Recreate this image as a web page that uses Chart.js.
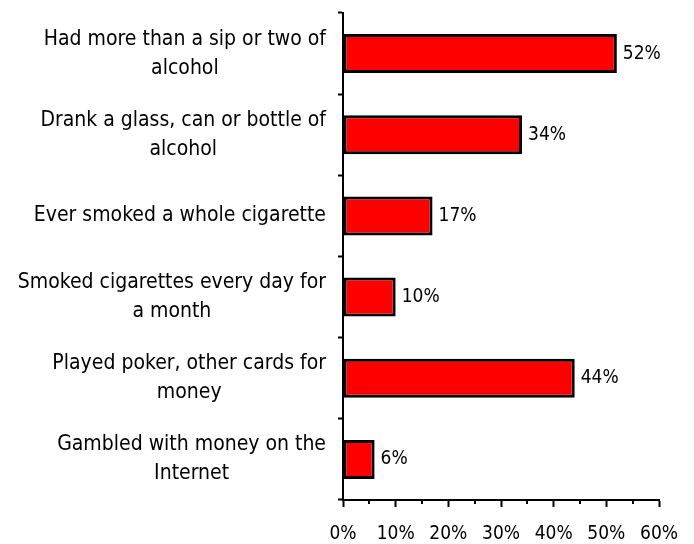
<!DOCTYPE html>
<html>
<head>
<meta charset="utf-8">
<script src="https://cdn.jsdelivr.net/npm/chart.js@4/dist/chart.umd.min.js"></script>
<style>
  html, body { margin: 0; padding: 0; background: #fff; }
  #wrap { width: 694px; height: 544px; }
</style>
</head>
<body>
<div id="wrap"><canvas id="c"></canvas></div>
<script>
var categories = [
    ['Had more than a sip or two of', 'alcohol'],
    ['Drank a glass, can or bottle of', 'alcohol'],
    ['Ever smoked a whole cigarette'],
    ['Smoked cigarettes every day for', 'a month'],
    ['Played poker, other cards for', 'money'],
    ['Gambled with money on the', 'Internet']
];
var percents = [52, 34, 17, 10, 44, 6];
var xTicks = [0, 10, 20, 30, 40, 50, 60];
var minorTicks = [5, 15, 25, 35, 45, 55];

var FONT = '"DejaVu Sans Condensed", "DejaVu Sans", sans-serif';

// y labels: each block right-aligned, lines centred inside the block (Excel style)
var yLabelsPlugin = {
    id: 'yLabels',
    afterDraw: function(chart) {
        var ctx = chart.ctx;
        var y = chart.scales.y;
        var right = y.right - 17;
        var lineH = 29;
        ctx.save();
        ctx.font = '21px ' + FONT;
        ctx.fillStyle = '#000';
        ctx.textAlign = 'center';
        ctx.textBaseline = 'middle';
        categories.forEach(function(lines, i) {
            var w = 0;
            lines.forEach(function(l) { w = Math.max(w, ctx.measureText(l).width); });
            var cx = right - w / 2;
            var cy = y.getPixelForValue(i);
            var top = cy - (lines.length - 1) * lineH / 2;
            lines.forEach(function(l, k) {
                ctx.fillText(l, cx, top + k * lineH);
            });
        });
        ctx.restore();
    }
};

// value labels right of bars and the short minor ticks on the x axis
var extrasPlugin = {
    id: 'extras',
    afterDraw: function(chart) {
        var ctx = chart.ctx;
        var meta = chart.getDatasetMeta(0);
        ctx.save();
        ctx.font = '19px ' + FONT;
        ctx.fillStyle = '#000';
        ctx.textAlign = 'left';
        ctx.textBaseline = 'middle';
        meta.data.forEach(function(bar, i) {
            ctx.fillText(percents[i] + '%', bar.x + 6, bar.y);
        });

        var x = chart.scales.x;
        ctx.strokeStyle = '#000';
        ctx.lineWidth = 2;
        minorTicks.forEach(function(v) {
            var px = Math.round(x.getPixelForValue(v));
            ctx.beginPath();
            ctx.moveTo(px, x.top);
            ctx.lineTo(px, x.top + 4);
            ctx.stroke();
        });
        ctx.restore();
    }
};

new Chart(document.getElementById('c'), {
    type: 'bar',
    data: {
        labels: categories.map(function(c) { return c.join(' '); }),
        datasets: [{
            data: percents,
            backgroundColor: '#ff0000',
            borderColor: '#000000',
            borderWidth: 3,
            borderSkipped: false,
            categoryPercentage: 1,
            barPercentage: 0.48
        }]
    },
    options: {
        indexAxis: 'y',
        responsive: true,
        maintainAspectRatio: false,
        animation: false,
        layout: { padding: { top: 13, right: 34, left: 0, bottom: 0 } },
        plugins: {
            legend: { display: false },
            tooltip: { enabled: false }
        },
        scales: {
            x: {
                type: 'linear',
                min: 0,
                max: 60,
                afterFit: function(s) { s.height = 44; },
                afterBuildTicks: function(s) {
                    s.ticks = xTicks.map(function(v) { return { value: v }; });
                },
                border: { display: true, color: '#000', width: 2 },
                grid: {
                    drawOnChartArea: false,
                    drawTicks: true,
                    tickLength: 7,
                    color: '#000',
                    tickWidth: 2
                },
                ticks: {
                    color: '#000',
                    padding: 16,
                    maxRotation: 0,
                    font: { family: FONT, size: 19 },
                    callback: function(v) { return v + '%'; }
                }
            },
            y: {
                offset: true,
                afterFit: function(s) { s.width = 343; },
                border: { display: true, color: '#000', width: 2 },
                grid: {
                    offset: true,
                    drawOnChartArea: false,
                    drawTicks: true,
                    tickLength: 5,
                    color: '#000',
                    tickWidth: 2
                },
                ticks: { display: false }
            }
        }
    },
    plugins: [yLabelsPlugin, extrasPlugin]
});
</script>
</body>
</html>
